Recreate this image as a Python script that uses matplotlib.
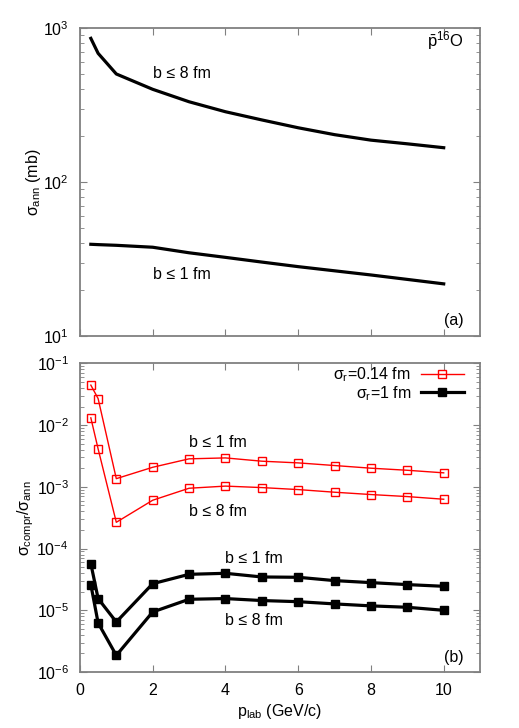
import numpy as np
import matplotlib
matplotlib.use("Agg")
from matplotlib import pyplot as plt
from matplotlib.ticker import LogLocator, LogFormatterMathtext, NullFormatter, MultipleLocator, NullLocator

plt.rcParams['font.family'] = ['Liberation Sans', 'DejaVu Sans']
plt.rcParams['mathtext.fontset'] = 'custom'
plt.rcParams['mathtext.rm'] = 'Liberation Sans'
plt.rcParams['mathtext.it'] = 'Liberation Sans'
plt.rcParams['mathtext.sf'] = 'Liberation Sans'
plt.rcParams['font.size'] = 11.5

# annihilation cross section (panel a)
p_ann = [0.3, 0.5, 1, 2, 3, 4, 5, 6, 7, 8, 9, 10]
ann_b8 = [857, 685, 503, 400, 332, 286, 253, 225, 203, 187, 177, 167]
ann_b1 = [39.4, 39.2, 38.8, 37.7, 34.7, 32.4, 30.2, 28.2, 26.5, 24.9, 23.3, 21.8]

# sigma_compr / sigma_ann (panel b)
p_ratio = [0.3, 0.5, 1, 2, 3, 4, 5, 6, 7, 8, 9, 10]
red_b1 = [4.46e-2, 2.70e-2, 1.36e-3, 2.08e-3, 2.85e-3, 2.95e-3, 2.61e-3, 2.45e-3, 2.22e-3, 2.01e-3, 1.86e-3, 1.69e-3]
red_b8 = [1.315e-2, 4.13e-3, 2.67e-4, 6.08e-4, 9.51e-4, 1.03e-3, 9.75e-4, 9.05e-4, 8.2e-4, 7.52e-4, 6.97e-4, 6.31e-4]
blk_b1 = [5.71e-5, 1.55e-5, 6.47e-6, 2.70e-5, 3.83e-5, 3.98e-5, 3.47e-5, 3.43e-5, 3.03e-5, 2.81e-5, 2.61e-5, 2.45e-5]
blk_b8 = [2.61e-5, 6.24e-6, 1.86e-6, 9.4e-6, 1.51e-5, 1.55e-5, 1.44e-5, 1.38e-5, 1.27e-5, 1.18e-5, 1.12e-5, 1.0e-5]

frame_col = '#808080'


def style_axis(ax):
    for s in ax.spines.values():
        s.set_color(frame_col)
        s.set_linewidth(1.3)
    ax.set_yscale('log')
    ax.set_xlim(0, 11)
    ax.xaxis.set_major_locator(MultipleLocator(2))
    ax.xaxis.set_minor_locator(NullLocator())
    ax.yaxis.set_major_locator(LogLocator(base=10))
    ax.yaxis.set_minor_locator(LogLocator(base=10, subs=np.arange(2, 10)))
    ax.yaxis.set_major_formatter(LogFormatterMathtext())
    ax.yaxis.set_minor_formatter(NullFormatter())
    ax.tick_params(which='both', direction='in', top=True, right=True, color=frame_col)
    ax.tick_params(which='major', length=5, width=0.8, pad=8)
    ax.tick_params(which='minor', length=3, width=0.6)


fig = plt.figure(figsize=(5.19, 7.28), dpi=100)
ax1 = fig.add_axes([0.154, 0.5385, 0.771, 0.423])
ax2 = fig.add_axes([0.154, 0.0769, 0.771, 0.4238])

# panel (a)
style_axis(ax1)
ax1.plot(p_ann, ann_b8, color='black', lw=2.3)
ax1.plot(p_ann, ann_b1, color='black', lw=2.3)
ax1.set_ylim(10, 1000)
ax1.xaxis.set_ticklabels([])
ax1.set_ylabel(r'$\sigma_{\rm ann}$ (mb)', labelpad=0)
ax1.text(2.0, 503, 'b ≤ 8 fm', va='center', ha='left')
ax1.text(2.0, 24.9, 'b ≤ 1 fm', va='center', ha='left')
ax1.text(10.55, 830, r'$\bar{\rm p}^{16}$O', ha='right', va='center', fontsize=12)
ax1.text(10.55, 12.6, '(a)', ha='right', va='center')

# panel (b)
style_axis(ax2)
ax2.plot(p_ratio, red_b1, color='red', lw=1.0, marker='s', ms=5.5, mfc='none', mew=1.0,
         label=r'$\sigma_{\rm r}$=0.14 fm')
ax2.plot(p_ratio, red_b8, color='red', lw=1.0, marker='s', ms=5.5, mfc='none', mew=1.0)
ax2.plot(p_ratio, blk_b1, color='black', lw=2.3, marker='s', ms=5.5,
         label=r'$\sigma_{\rm r}$=1 fm')
ax2.plot(p_ratio, blk_b8, color='black', lw=2.3, marker='s', ms=5.5)
ax2.set_ylim(1e-6, 1e-1)
ax2.set_xlabel(r'p$_{\rm lab}$ (GeV/c)', labelpad=3)
ax2.set_ylabel(r'$\sigma_{\rm compr}$/$\sigma_{\rm ann}$', labelpad=0)
ax2.text(3.0, 5.2e-3, 'b ≤ 1 fm', va='center', ha='left')
ax2.text(3.0, 4.0e-4, 'b ≤ 8 fm', va='center', ha='left')
ax2.text(4.0, 6.9e-5, 'b ≤ 1 fm', va='center', ha='left')
ax2.text(4.0, 6.9e-6, 'b ≤ 8 fm', va='center', ha='left')
ax2.text(10.55, 1.75e-6, '(b)', ha='right', va='center')
ax2.legend(loc='upper right', frameon=False, markerfirst=False, handlelength=2.7,
           handletextpad=0.6, labelspacing=0.0, borderaxespad=0.0,
           bbox_to_anchor=(0.975, 1.015))

fig.savefig('out.png', dpi=100)
